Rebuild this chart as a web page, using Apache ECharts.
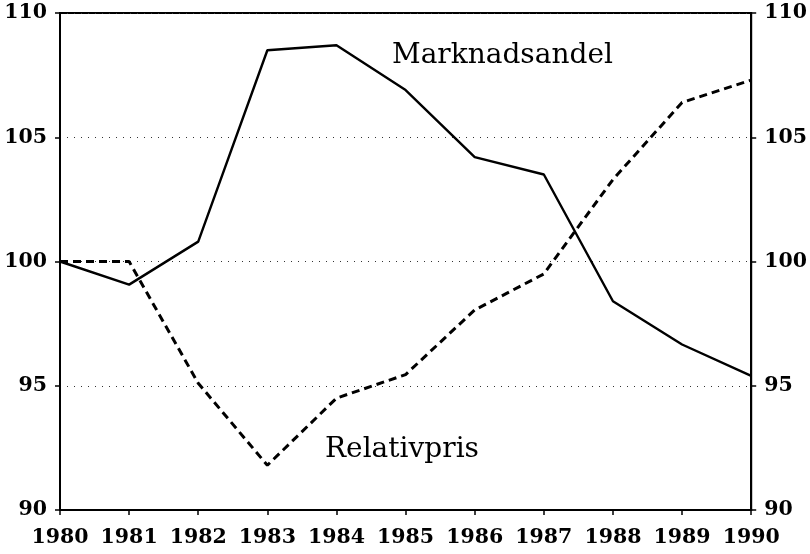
<!DOCTYPE html>
<html><head><meta charset="utf-8">
<script src="https://cdn.jsdelivr.net/npm/echarts@6/dist/echarts.min.js"></script>
<style>html,body{margin:0;padding:0;background:#fff}#c{width:810px;height:554px}</style>
</head><body><div id="c"></div>
<script>
const years = ['1980','1981','1982','1983','1984','1985','1986','1987','1988','1989','1990'];
const marknadsandel = [100, 99.07, 100.8, 108.5, 108.7, 106.9, 104.2, 103.5, 98.4, 96.66, 95.4];
const relativpris = [100, 100, 95.1, 91.8, 94.5, 95.45, 98.05, 99.5, 103.3, 106.4, 107.3];
const yTicks = [90, 95, 100, 105, 110];

const chart = echarts.init(document.getElementById('c'));
const labelFont = {fontFamily:'DejaVu Serif', fontWeight:'bold', fontSize:20.5, color:'#000'};
const yAxisBase = {
  type:'value', min:90, max:110, interval:5,
  axisLine:{show:true, lineStyle:{color:'#000', width:2}},
  axisTick:{show:true, length:5, lineStyle:{color:'#000', width:1.5}},
  axisLabel:Object.assign({margin:13, formatter:v=>yTicks.includes(v)?String(v):''}, labelFont),
};
chart.setOption({
  animation:false,
  backgroundColor:'#fff',
  grid:{left:60, right:58, top:13, bottom:44, show:true, borderColor:'#000', borderWidth:2, backgroundColor:'transparent'},
  xAxis:{type:'category', data:years, boundaryGap:false,
    axisLine:{lineStyle:{color:'#000', width:2}},
    axisTick:{show:true, length:5, alignWithLabel:true, lineStyle:{color:'#000', width:1.5}},
    axisLabel:Object.assign({margin:17, interval:0}, labelFont),
    splitLine:{show:false}},
  yAxis:[
    Object.assign({position:'left', splitLine:{show:true, lineStyle:{color:'#333', type:[1,6], width:1.2}}}, yAxisBase),
    Object.assign({position:'right', splitLine:{show:false}}, yAxisBase)
  ],
  series:[
    {name:'Marknadsandel', type:'line', data:marknadsandel, symbol:'none', yAxisIndex:0,
     lineStyle:{color:'#000', width:2.4}},
    {name:'Relativpris', type:'line', data:relativpris, symbol:'none', yAxisIndex:0,
     lineStyle:{color:'#000', width:3, type:[8,5]}}
  ],
  graphic:[
    {type:'text', left:392, top:42, style:{text:'Marknadsandel', font:'28px "DejaVu Serif"', fill:'#000'}},
    {type:'text', left:325, top:436, style:{text:'Relativpris', font:'28px "DejaVu Serif"', fill:'#000'}}
  ]
});
</script></body></html>
